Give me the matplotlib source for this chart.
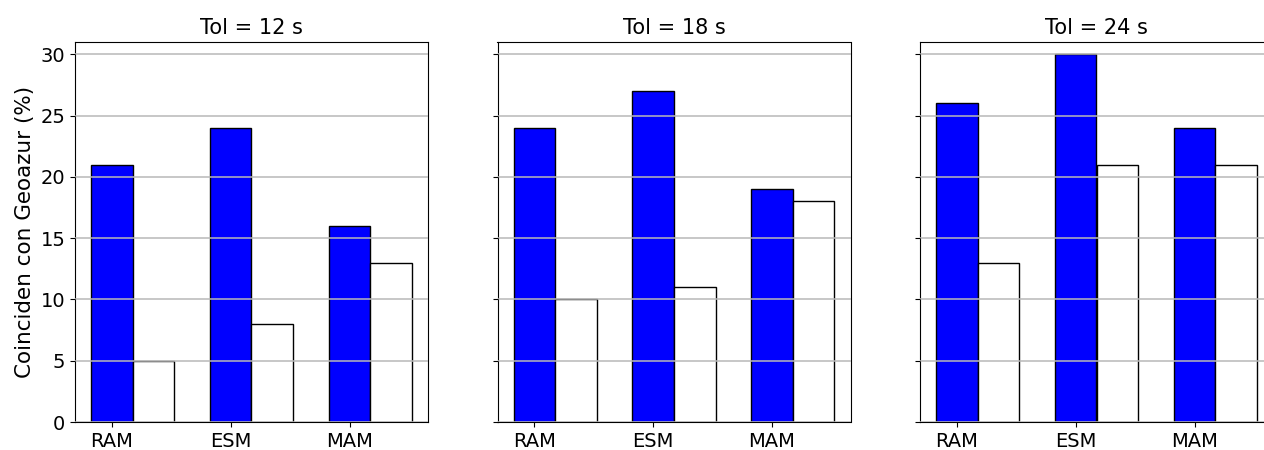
from matplotlib import pyplot as plt
import numpy as np

metodos = ['RAM', 'ESM', 'MAM']
tolerancias = ['Tol = 12 s', 'Tol = 18 s', 'Tol = 24 s']
azul = [[21, 24, 16], [24, 27, 19], [26, 30, 24]]
blanco = [[5, 8, 13], [10, 11, 18], [13, 21, 21]]

fig = plt.figure(figsize=(12.64, 4.5), dpi=100)
x = np.arange(len(metodos))
w = 0.35
axes = []
for i in range(3):
    left = (75 + i*422.5)/1264
    if i == 0:
        ax = fig.add_axes([left, 28/450, 353/1264, 380/450])
    else:
        ax = fig.add_axes([left, 28/450, 353/1264, 380/450], sharey=axes[0])
        plt.setp(ax.get_yticklabels(), visible=False)
    axes.append(ax)
    ax.bar(x, azul[i], w, color='blue', edgecolor='black', linewidth=1)
    ax.bar(x + w, blanco[i], w, color='white', edgecolor='black', linewidth=1)
    ax.set_axisbelow(False)
    ax.yaxis.grid(True, color='#b8b8b8', linewidth=1.1)
    ax.set_xticks(x)
    ax.set_xticklabels(metodos, fontsize=14)
    ax.tick_params(axis='y', labelsize=14)
    ax.set_title(tolerancias[i], fontsize=15)

axes[0].set_ylim(0, 31)
axes[0].set_yticks([0, 5, 10, 15, 20, 25, 30])
axes[0].set_ylabel('Coinciden con Geoazur (%)', fontsize=15.5)

fig.savefig('out.png', dpi=100)
